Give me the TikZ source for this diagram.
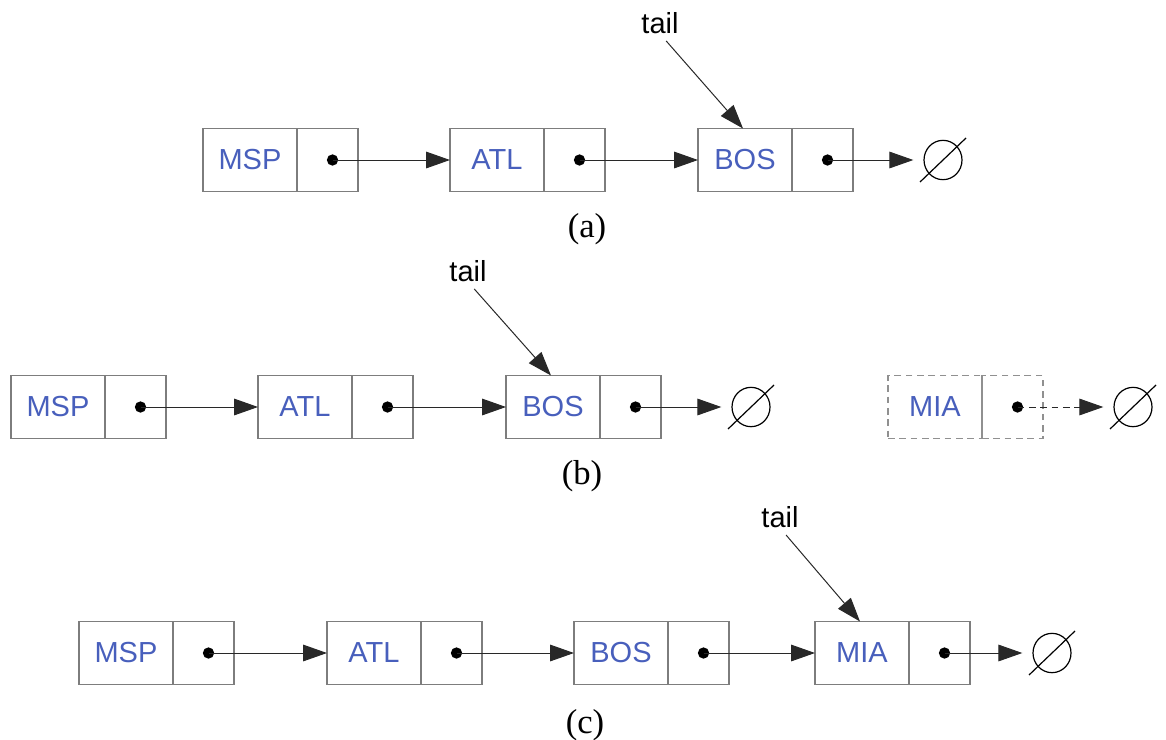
\documentclass[tikz,border=0pt]{standalone}
\usepackage{fontspec}
\setmainfont{Liberation Serif}
\setsansfont{Liberation Sans}
\usetikzlibrary{arrows.meta}
\definecolor{nodeblue}{RGB}{72,95,188}
\definecolor{boxgray}{RGB}{125,125,125}
\definecolor{linkgray}{RGB}{40,40,40}
\tikzset{
  datacell/.style={draw=boxgray, line width=1pt, minimum width=70.5pt, minimum height=47.25pt,
    inner sep=0pt, outer sep=0pt, anchor=west, text=nodeblue,
    font=\sffamily\fontsize{21.75}{26}\selectfont},
  ptrcell/.style={draw=boxgray, line width=1pt, minimum width=45.75pt, minimum height=47.25pt,
    inner sep=0pt, outer sep=0pt, anchor=west},
  dotmark/.style={circle, fill=black, inner sep=0pt, minimum size=8.5pt},
  link/.style={draw=linkgray, line width=0.75pt, -{Triangle[length=18pt,width=12.5pt]}},
  nullsym/.style={ellipse, draw=black, line width=0.9pt, minimum width=28.5pt, minimum height=29.5pt, inner sep=0pt, outer sep=8pt},
  nullslash/.style={draw=black, line width=0.9pt},
  taillabel/.style={font=\sffamily\fontsize{21.75}{26}\selectfont, inner sep=0pt},
  caption/.style={font=\rmfamily\fontsize{26}{30}\selectfont, inner sep=0pt},
  ghost/.style={dashed, dash pattern=on 5pt off 3.5pt, draw=boxgray!85},
}
\usetikzlibrary{shapes.geometric}
\newcommand\listelem[5][]{%
  \node[datacell,#1] (#2d) at (#3,#4) {#5};
  \node[ptrcell,#1] (#2p) at (#2d.east) {};
  \node[dotmark] (#2o) at ([xshift=3.75pt]#2p.center) {};
}
\newcommand\nullmark[3]{%
  \node[nullsym] (#1) at (#2,#3) {};
  \draw[nullslash] (#1.center) ++(-23,22) -- ++(46,-44);
}
\begin{document}
\begin{tikzpicture}[x=0.75pt,y=-0.75pt]
\useasboundingbox (0,0) rectangle (1166,739);

% ---------- (a) ----------
\listelem{aMSP}{203}{160}{MSP}
\listelem{aATL}{450}{160}{ATL}
\listelem{aBOS}{698}{160}{BOS}
\nullmark{aN}{943}{160}
\draw[link] (aMSPo.center) -- (aATLd.west);
\draw[link] (aATLo.center) -- (aBOSd.west);
\draw[link] (aBOSo.center) -- (aN.west);
\node[taillabel] (aT) at (660,23) {tail};
\draw[link, shorten <=7pt] (aT.south) -- ([xshift=-1.5pt]aBOSd.north);
\node[caption] (aC) at (587,229) {(a)};

% ---------- (b) ----------
\listelem{bMSP}{11}{407}{MSP}
\listelem{bATL}{258}{407}{ATL}
\listelem{bBOS}{506}{407}{BOS}
\nullmark{bN}{751}{407}
\draw[link] (bMSPo.center) -- (bATLd.west);
\draw[link] (bATLo.center) -- (bBOSd.west);
\draw[link] (bBOSo.center) -- (bN.west);
\node[taillabel] (bT) at (468,271) {tail};
\draw[link, shorten <=7pt] (bT.south) -- ([xshift=-1.5pt]bBOSd.north);
\listelem[ghost]{bMIA}{888}{407}{MIA}
\nullmark{bN2}{1133}{407}
\draw[link, dashed, dash pattern=on 5pt off 3.5pt] (bMIAo.center) -- (bN2.west);
\node[caption] (bC) at (582,476) {(b)};

% ---------- (c) ----------
\listelem{cMSP}{79}{653}{MSP}
\listelem{cATL}{327}{653}{ATL}
\listelem{cBOS}{574}{653}{BOS}
\listelem{cMIA}{815}{653}{MIA}
\nullmark{cN}{1052}{653}
\draw[link] (cMSPo.center) -- (cATLd.west);
\draw[link] (cATLo.center) -- (cBOSd.west);
\draw[link] (cBOSo.center) -- (cMIAd.west);
\draw[link] (cMIAo.center) -- (cN.west);
\node[taillabel] (cT) at (780,517) {tail};
\draw[link, shorten <=7pt] (cT.south) -- ([xshift=-1.5pt]cMIAd.north);
\node[caption] (cC) at (585,725) {(c)};
\end{tikzpicture}
\end{document}
